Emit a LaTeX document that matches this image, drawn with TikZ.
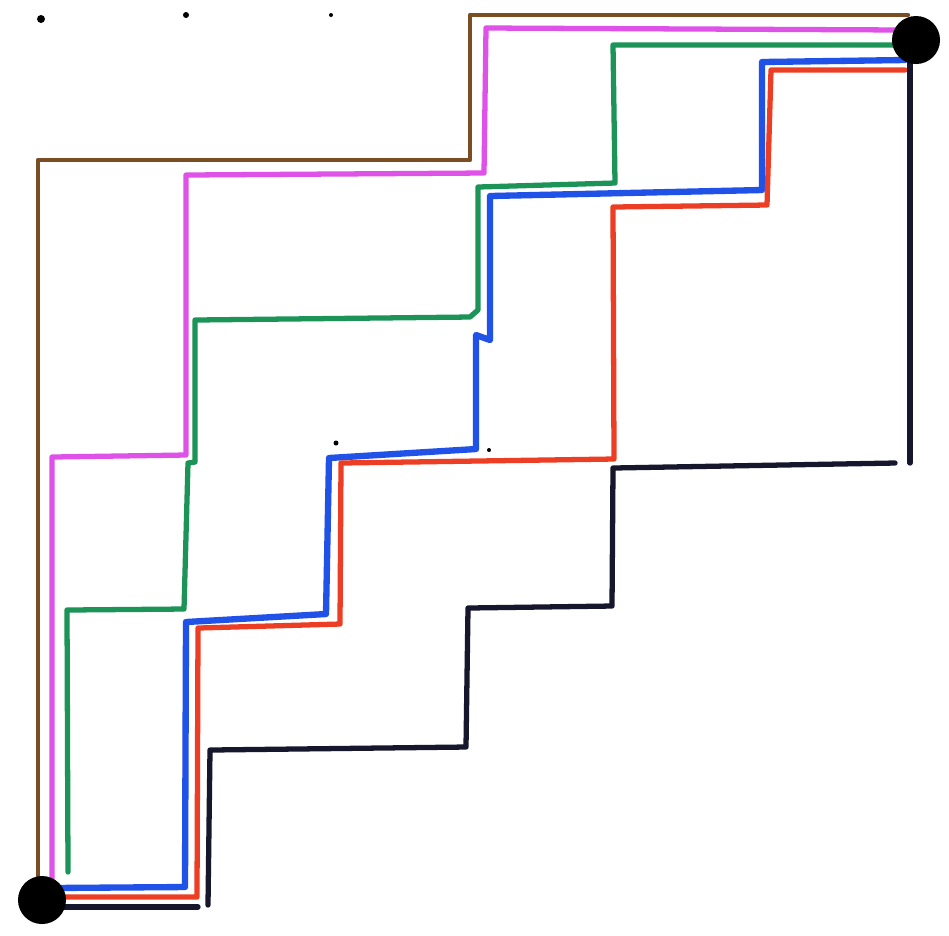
\documentclass[tikz,border=0pt]{standalone}
\begin{document}
\begin{tikzpicture}[x=0.01cm,y=-0.01cm,
  pth/.style={line width=1.5pt,line join=round,line cap=round},
  brownp/.style={pth,draw=BrownP,line width=1.2pt},
  magp/.style={pth,draw=MagP},
  greenp/.style={pth,draw=GreenP},
  bluep/.style={pth,draw=BlueP,line width=1.8pt},
  redp/.style={pth,draw=RedP},
  blackp/.style={pth,draw=BlackP},
  bigdot/.style={circle,fill=black,inner sep=0pt,minimum size=0.48cm},
  smalldot/.style={circle,fill=black,inner sep=0pt,minimum size=#1}
]
\definecolor{BrownP}{RGB}{122,78,34}
\definecolor{MagP}{RGB}{222,82,232}
\definecolor{GreenP}{RGB}{28,148,88}
\definecolor{BlueP}{RGB}{32,82,232}
\definecolor{RedP}{RGB}{236,62,36}
\definecolor{BlackP}{RGB}{22,22,44}
\useasboundingbox (0,0) rectangle (949,935);
\fill[white] (0,0) rectangle (949,935);

% brown path
\coordinate (b0) at (38,885);
\coordinate (b1) at (38,160);
\coordinate (b2) at (470,160);
\coordinate (b3) at (470,15);
\coordinate (b4) at (908,15);
\draw[brownp] (b0) -- (b1) -- (b2) -- (b3) -- (b4);

% magenta path
\coordinate (m0) at (52,885);
\coordinate (m1) at (52,457);
\coordinate (m2) at (186,455);
\coordinate (m3) at (186,175);
\coordinate (m4) at (484,173);
\coordinate (m5) at (486,28);
\coordinate (m6) at (905,30);
\draw[magp] (m0) -- (m1) -- (m2) -- (m3) -- (m4) -- (m5) -- (m6);

% green path
\coordinate (g0) at (68,872);
\coordinate (g1) at (67,610);
\coordinate (g2) at (184,609);
\coordinate (g3) at (188,463);
\coordinate (g4) at (195,462);
\coordinate (g5) at (195,320);
\coordinate (g6) at (470,317);
\coordinate (g7) at (478,310);
\coordinate (g8) at (478,187);
\coordinate (g9) at (615,183);
\coordinate (g10) at (613,45);
\coordinate (g11) at (905,45);
\draw[greenp] (g0) -- (g1) -- (g2) -- (g3) -- (g4) -- (g5) -- (g6) -- (g7) -- (g8) -- (g9) -- (g10) -- (g11);

% blue path
\coordinate (u0) at (50,888);
\coordinate (u1) at (185,887);
\coordinate (u2) at (186,622);
\coordinate (u3) at (326,614);
\coordinate (u4) at (329,458);
\coordinate (u5) at (476,449);
\coordinate (u6) at (476,335);
\coordinate (u7) at (490,340);
\coordinate (u8) at (490,196);
\coordinate (u9) at (762,190);
\coordinate (u10) at (762,62);
\coordinate (u11) at (905,60);
\draw[bluep] (u0) -- (u1) -- (u2) -- (u3) -- (u4) -- (u5) -- (u6) -- (u7) -- (u8) -- (u9) -- (u10) -- (u11);

% red path
\coordinate (r0) at (50,897);
\coordinate (r1) at (197,897);
\coordinate (r2) at (198,628);
\coordinate (r3) at (340,624);
\coordinate (r4) at (341,463);
\coordinate (r5) at (614,459);
\coordinate (r6) at (613,207);
\coordinate (r7) at (767,205);
\coordinate (r8) at (771,70);
\coordinate (r9) at (905,70);
\draw[redp] (r0) -- (r1) -- (r2) -- (r3) -- (r4) -- (r5) -- (r6) -- (r7) -- (r8) -- (r9);

% black path
\coordinate (k0) at (50,907);
\coordinate (k1) at (198,907);
\coordinate (k2) at (208,905);
\coordinate (k3) at (210,750);
\coordinate (k4) at (466,747);
\coordinate (k5) at (468,608);
\coordinate (k6) at (612,606);
\coordinate (k7) at (613,468);
\coordinate (k8) at (895,463);
\coordinate (k9) at (910,463);
\coordinate (k10) at (910,50);
\draw[blackp] (k0) -- (k1);
\draw[blackp] (k2) -- (k3) -- (k4) -- (k5) -- (k6) -- (k7) -- (k8);
\draw[blackp] (k9) -- (k10);

% start and end points
\node[bigdot] (start) at (42,900) {};
\node[bigdot] (end) at (916,40) {};

% small marks
\node[smalldot=0.08cm] (d1) at (41,19) {};
\node[smalldot=0.06cm] (d2) at (186,15) {};
\node[smalldot=0.04cm] (d3) at (331,15) {};
\node[smalldot=0.05cm] (d4) at (336,443) {};
\node[smalldot=0.04cm] (d5) at (489,450) {};
\end{tikzpicture}
\end{document}
